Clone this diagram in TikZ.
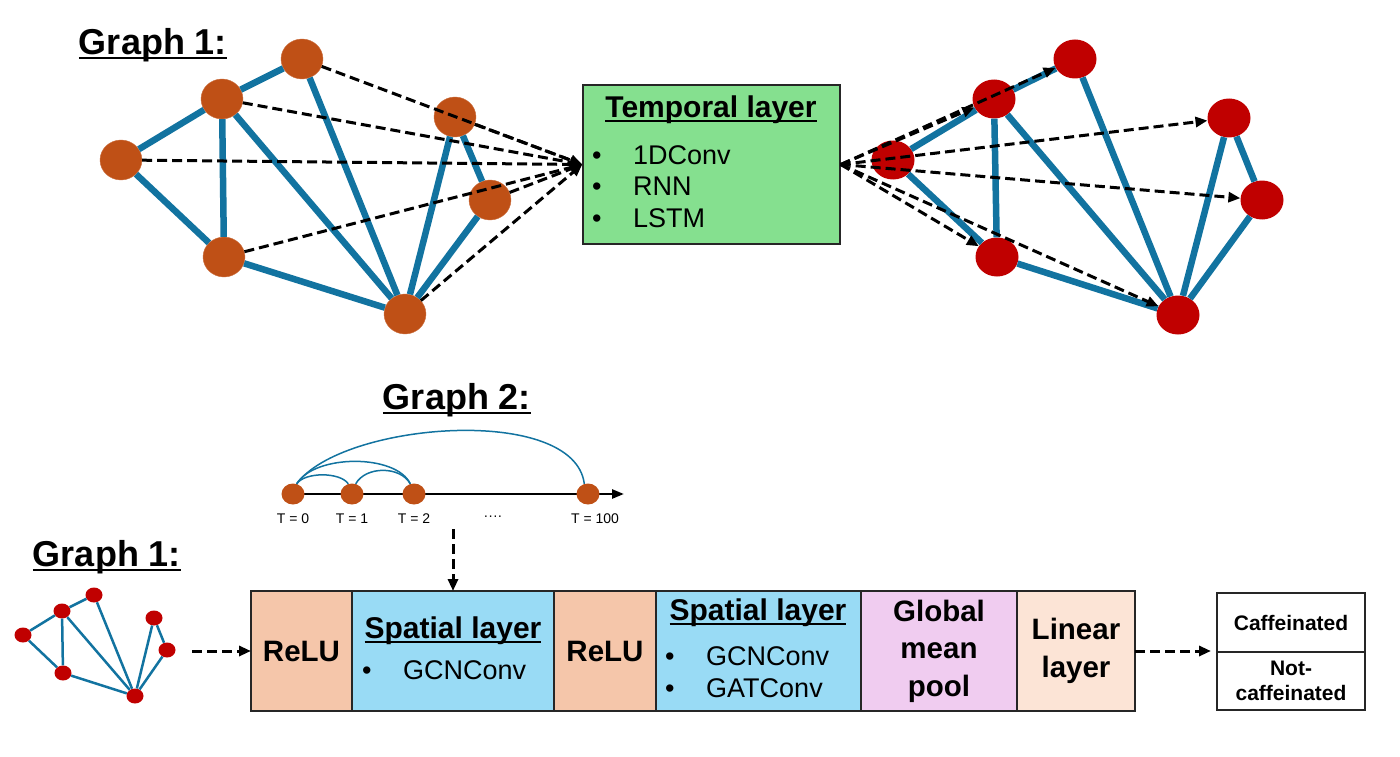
\documentclass[tikz,border=0pt]{standalone}
\usepackage{fontspec}
\setmainfont{Liberation Sans}
\usepackage{tikz}
\usetikzlibrary{positioning, arrows.meta, calc, shapes.geometric}
\definecolor{vorange}{RGB}{191,80,22}
\definecolor{vred}{RGB}{192,0,0}
\definecolor{eblue}{RGB}{18,115,160}
\definecolor{tgreen}{RGB}{133,224,143}
\definecolor{relufill}{RGB}{245,198,170}
\definecolor{spatfill}{RGB}{153,219,245}
\definecolor{poolfill}{RGB}{240,204,240}
\definecolor{linfill}{RGB}{252,228,214}
\newcommand\ulbox[1]{\setbox0\hbox{#1}\rlap{\rule[-0.13em]{\wd0}{0.06em}}\box0}
\newcommand\bitem[2]{\makebox[#1][l]{•}#2}
\tikzset{
  ovtx/.style={ellipse, fill=vorange, draw=vorange!80!white, minimum width=42pt, minimum height=40pt, inner sep=0pt},
  rvtx/.style={ellipse, fill=vred, minimum width=43pt, minimum height=39pt, inner sep=0pt},
  svtx/.style={ellipse, fill=vred, minimum width=17pt, minimum height=15pt, inner sep=0pt},
  tvtx/.style={ellipse, fill=vorange, minimum width=23pt, minimum height=21pt, inner sep=0pt},
  gedge/.style={eblue, line width=6.5pt},
  sedge/.style={eblue, line width=2.5pt},
  tarc/.style={eblue, line width=1.5pt},
  darr/.style={dash pattern=on 10pt off 5pt, line width=3pt, -{Triangle[length=12pt, width=10pt]}},
  tline/.style={line width=2.5pt, -{Triangle[length=12pt, width=9pt]}},
  ttl/.style={inner sep=0pt, font=\fontsize{36}{40}\selectfont\bfseries},
  cell/.style={draw=black!85, line width=1.5pt, outer sep=0pt, minimum height=120pt, inner sep=0pt, align=center, font=\fontsize{29.5}{37.5}\selectfont\bfseries},
  head/.style={inner sep=0pt, font=\fontsize{30}{34}\selectfont\bfseries},
  item/.style={inner sep=0pt, anchor=west, font=\fontsize{27}{32}\selectfont},
  tlbl/.style={inner sep=0pt, font=\fontsize{14}{16}\selectfont},
  outbox/.style={draw=black!85, line width=1.5pt, outer sep=0pt, minimum width=148pt, inner sep=0pt, align=center, font=\fontsize{21}{25}\selectfont\bfseries},
}
\begin{document}
\begin{tikzpicture}[x=1pt, y=-1pt]
\useasboundingbox (0,0) rectangle (1400,757);

% graph 1 (input of the temporal layer)
\node[ttl] (g1a) at (153,45) {\ulbox{Graph 1:}};
\node[ovtx] (la) at (302,59) {};
\node[ovtx] (lb) at (222,99) {};
\node[ovtx] (lc) at (121,160) {};
\node[ovtx] (ld) at (224,257) {};
\node[ovtx] (le) at (405,314) {};
\node[ovtx] (lf) at (455,117) {};
\node[ovtx] (lg) at (490,200) {};
\foreach \a/\b in {lc/lb, lb/la, lc/ld, lb/ld, lb/le, la/le, ld/le, lf/le, lf/lg, lg/le}
  \draw[gedge] (\a) -- (\b);

% temporal layer
\node[draw=black!85, line width=1.5pt, fill=tgreen, minimum width=257pt, minimum height=159pt] (temp) at (711.5,164.5) {};
\node[head] (temph) at (711,110) {\ulbox{Temporal layer}};
\node[item] (tc1) at (592,155) {\bitem{41pt}{1DConv}};
\node[item] (tc2) at (592,186) {\bitem{41pt}{RNN}};
\node[item] (tc3) at (592,218) {\bitem{41pt}{LSTM}};
\foreach \n in {la, lb, lc, ld, le, lf, lg}
  \draw[darr] (\n) -- (temp.west);

% graph 1 (output of the temporal layer)
\node[rvtx] (rp) at (893,160) {};
\node[rvtx] (rq) at (994,99) {};
\node[rvtx] (rr) at (1075,59) {};
\node[rvtx] (rs) at (1229,118) {};
\node[rvtx] (rt) at (1262,200) {};
\node[rvtx] (ru) at (997,257) {};
\node[rvtx] (rv) at (1178,315) {};
\foreach \a/\b in {rp/rq, rq/rr, rp/ru, rq/ru, rq/rv, rr/rv, ru/rv, rs/rv, rs/rt, rt/rv}
  \draw[gedge] (\a) -- (\b);
\foreach \n in {rq, rr, rs, rt, ru, rv}
  \draw[darr] (temp.east) -- (\n);

% graph 2
\node[ttl] (g2) at (457,400) {\ulbox{Graph 2:}};
\coordinate (tstart) at (293,494);
\coordinate (tend) at (624,494);
\draw[tline] (tstart) -- (tend);
\node[tvtx] (t0) at (293,494) {};
\node[tvtx] (t1) at (352,494) {};
\node[tvtx] (t2) at (414,494) {};
\node[tvtx] (t100) at (588,494) {};
\draw[tarc] (t0.70) .. controls +(8,-12) and +(-8,-12) .. (t1.110);
\draw[tarc] (t0.70) .. controls +(18,-30) and +(-14,-30) .. (t2.110);
\draw[tarc] (t1.70) .. controls +(10,-18) and +(-10,-18) .. (t2.110);
\draw[tarc] (t0.70) .. controls +(45,-62) and +(-10,-80) .. (t100.110);
\node[tlbl] (l0) at (293,519) {T = 0};
\node[tlbl] (l1) at (352,519) {T = 1};
\node[tlbl] (l2) at (414,519) {T = 2};
\node[tlbl] (ldots) at (493,518) {····};
\node[tlbl] (l100) at (595,519) {T = 100};
\coordinate (g2out) at (453,529);

% small graph 1
\node[ttl] (g1b) at (107,557) {\ulbox{Graph 1:}};
\node[svtx] (sa) at (94,595) {};
\node[svtx] (sb) at (62,611) {};
\node[svtx] (sc) at (23,635) {};
\node[svtx] (sd) at (63,673) {};
\node[svtx] (se) at (135,696) {};
\node[svtx] (sf) at (154,618) {};
\node[svtx] (sg) at (167,650) {};
\foreach \a/\b in {sc/sb, sb/sa, sc/sd, sb/sd, sb/se, sa/se, sd/se, sf/se, sf/sg, sg/se}
  \draw[sedge] (\a) -- (\b);
\coordinate (sgout) at (192,651);

% model
\node[cell, fill=relufill, minimum width=101pt] (relu1) at (301.5,651) {ReLU};
\node[cell, fill=spatfill, minimum width=202pt, right=0pt of relu1] (spat1) {};
\node[cell, fill=relufill, minimum width=102pt, right=0pt of spat1] (relu2) {ReLU};
\node[cell, fill=spatfill, minimum width=205pt, right=0pt of relu2] (spat2) {};
\node[cell, fill=poolfill, minimum width=156pt, right=0pt of spat2] (pool) {Global\\mean\\pool};
\node[cell, fill=linfill, minimum width=118pt, right=0pt of pool] (lin) {Linear\\layer};
\node[head] (spat1h) at (453,631) {\ulbox{Spatial layer}};
\node[item] (s1c1) at (362,670) {\bitem{41pt}{GCNConv}};
\node[head] (spat2h) at (758,613) {\ulbox{Spatial layer}};
\node[item] (s2c1) at (665,656) {\bitem{41pt}{GCNConv}};
\node[item] (s2c2) at (665,688) {\bitem{41pt}{GATConv}};

% output
\node[outbox, minimum height=59pt] (caf) at (1291,622.5) {Caffeinated};
\node[outbox, minimum height=58pt, below=0pt of caf] (notcaf) {Not-\\caffeinated};
\coordinate (outin) at ($(caf.south west)+(-6,0)$);

\draw[darr] (g2out) -- (spat1.north);
\draw[darr] (sgout) -- (relu1.west);
\draw[darr] (lin.east) -- (outin |- lin.east);
\end{tikzpicture}
\end{document}
